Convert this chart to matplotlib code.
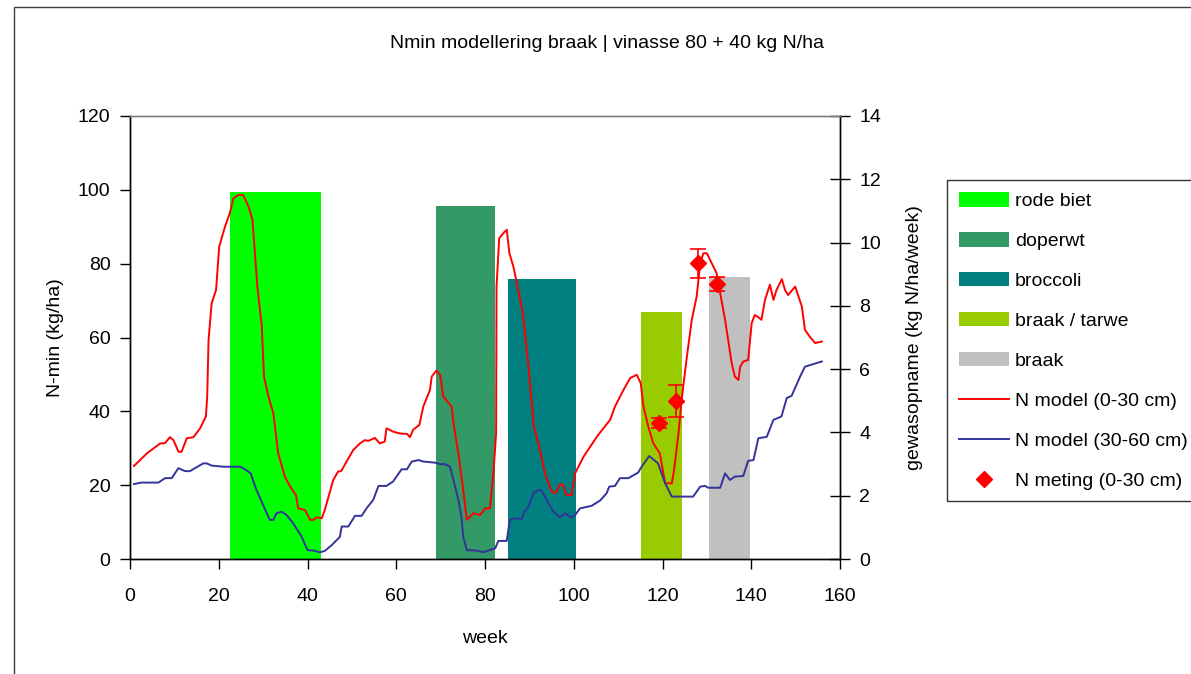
import matplotlib
matplotlib.use("Agg")
import matplotlib.pyplot as plt
from matplotlib.patches import Rectangle

plt.rcParams['font.family'] = ['Liberation Sans', 'DejaVu Sans']

# ---------------- data ----------------
crop_names = ["rode biet", "doperwt", "broccoli", "braak / tarwe", "braak"]
crop_start = [22.5, 69.0, 85.2, 115.2, 130.5]
crop_end = [43.0, 82.3, 100.5, 124.4, 139.7]
crop_uptake = [11.6, 11.15, 8.85, 7.8, 8.9]   # kg N/ha/week (right axis)
crop_colors = ["#00FF00", "#339966", "#008080", "#99CC00", "#C0C0C0"]

red_weeks = [0.9, 3.8, 6.8, 7.9, 9.0, 9.8, 10.9, 11.6, 12.8, 14.3, 15.8, 17.1, 17.4, 17.7,
             18.4, 19.4, 20.1, 21.4, 22.5, 23.3, 24.4, 25.5, 26.7, 27.6, 28.2, 28.7, 29.7,
             30.2, 31.2, 32.3, 33.4, 34.9, 36.1, 37.4, 37.9, 39.4, 40.6, 41.3, 42.1, 43.2,
             43.9, 45.8, 46.9, 47.6, 48.8, 50.3, 51.8, 52.9, 53.7, 55.2, 56.3, 57.4, 57.8,
             59.3, 60.8, 62.4, 63.1, 63.8, 65.2, 66.1, 67.6, 68.0, 69.0, 69.9, 70.6, 72.5,
             72.9, 74.0, 75.0, 75.9, 77.4, 78.9, 80.0, 81.1, 81.9, 82.5, 82.6, 83.2, 84.1,
             84.9, 85.5, 86.4, 87.5, 88.5, 89.8, 91.0, 92.4, 93.5, 94.6, 95.2, 96.1, 96.9,
             97.6, 98.4, 99.5, 100.3, 102.2, 103.7, 105.2, 107.0, 108.2, 109.3, 111.2,
             112.7, 114.2, 115.1, 115.7, 116.8, 117.9, 119.4, 120.6, 122.1, 122.6, 123.6,
             124.3, 125.4, 126.6, 127.7, 128.5, 129.2, 130.0, 131.1, 132.2, 133.0, 134.1,
             134.8, 135.6, 136.3, 137.1, 137.5, 138.2, 139.3, 140.1, 140.8, 141.6, 142.3,
             143.1, 144.2, 145.0, 145.7, 146.9, 147.6, 148.3, 149.9, 151.4, 152.1, 153.2,
             154.4, 155.9]
red_nmin = [25.2, 28.6, 31.3, 31.4, 33.0, 32.2, 29.1, 29.0, 32.7, 33.0, 35.4, 38.6, 44.0, 59.3,
            69.3, 72.9, 84.6, 90.0, 93.7, 97.7, 98.6, 98.6, 95.5, 91.9, 81.9, 73.8, 63.0,
            49.4, 44.0, 39.5, 28.6, 22.3, 19.6, 17.3, 13.7, 13.3, 10.6, 10.6, 11.3, 11.0,
            13.3, 21.4, 23.7, 23.8, 26.4, 29.5, 31.3, 32.2, 32.0, 32.8, 31.3, 31.8, 35.4,
            34.5, 34.0, 33.9, 33.0, 35.0, 36.3, 41.3, 45.8, 49.4, 51.0, 49.9, 44.0, 41.3,
            36.8, 28.6, 19.6, 10.6, 12.4, 11.9, 13.7, 13.7, 23.2, 34.0, 73.8, 86.9, 88.2,
            89.2, 82.8, 79.2, 72.9, 66.6, 52.1, 35.9, 29.5, 23.2, 19.6, 18.0, 18.0, 20.3,
            20.0, 17.3, 17.3, 23.2, 27.7, 30.4, 33.1, 35.9, 37.7, 41.3, 45.8,
            49.0, 49.9, 47.6, 41.3, 35.9, 31.4, 28.6, 20.5, 20.5, 24.1, 34.0,
            43.0, 53.9, 64.8, 71.1, 80.1, 82.8, 82.8, 80.1, 77.4, 72.0, 64.8,
            59.3, 53.0, 49.4, 48.5, 52.1, 53.5, 53.9, 63.9, 66.1, 65.5, 64.8,
            70.2, 74.3, 70.2, 72.9, 75.8, 72.9, 71.5, 73.8, 68.4, 62.1, 60.2,
            58.5, 58.9]

blue_weeks = [0.9, 2.6, 6.4, 7.9, 9.4, 10.9, 12.4, 13.5, 16.5, 17.3, 18.4, 21.0, 24.8, 25.9,
              27.2, 28.5, 30.0, 31.5, 32.3, 33.0, 34.2, 35.3, 36.8, 38.7, 40.0, 41.3, 42.8,
              43.9, 45.5, 47.3, 47.7, 49.2, 50.7, 52.2, 53.3, 54.8, 56.0, 57.8, 59.3, 61.2,
              62.4, 63.5, 65.0, 66.1, 68.7, 69.9, 71.0, 72.1, 72.9, 74.0, 74.7, 75.1, 75.9,
              78.1, 79.6, 80.7, 82.3, 83.0, 84.9, 85.6, 86.4, 88.3, 88.8, 89.8, 90.9, 92.0,
              92.8, 93.9, 95.4, 96.9, 98.0, 99.5, 100.3, 101.4, 104.0, 105.9, 107.4, 108.0,
              109.3, 110.4, 112.3, 114.5, 115.3, 117.0, 119.0, 120.6, 122.1, 126.9, 128.5,
              129.6, 130.3, 133.0, 134.1, 135.2, 136.3, 138.2, 139.3, 140.5, 141.6, 143.5,
              145.0, 146.8, 148.0, 149.1, 151.0, 152.1, 154.0, 155.9]
blue_nmin = [20.3, 20.7, 20.7, 21.9, 21.9, 24.6, 23.8, 23.8, 25.9, 25.9, 25.3, 25.0, 25.0, 24.3,
             23.2, 18.7, 14.6, 10.6, 10.6, 12.4, 12.8, 11.9, 9.6, 6.0, 2.4, 2.3, 1.8,
             2.2, 3.8, 6.0, 8.8, 8.8, 11.7, 11.7, 13.7, 16.0, 19.8, 19.8, 21.0, 24.3,
             24.3, 26.4, 26.8, 26.4, 26.1, 25.7, 25.7, 25.0, 21.4, 16.0, 11.5, 6.0, 2.4,
             2.3, 1.8, 2.3, 2.9, 4.9, 4.9, 10.6, 11.0, 10.8, 12.8, 14.2, 17.8, 18.7,
             18.5, 16.0, 12.8, 11.3, 12.4, 11.2, 11.9, 13.7, 14.4, 15.8, 17.8, 19.6,
             19.8, 21.9, 21.9, 23.4, 25.0, 27.9, 25.9, 20.5, 16.9, 16.9, 19.6,
             19.8, 19.3, 19.3, 23.2, 21.4, 22.3, 22.5, 26.6, 26.8, 32.7, 33.1,
             37.7, 38.6, 43.6, 44.2, 49.4, 52.1, 52.8, 53.5]

meas_weeks = [119.3, 123.0, 128.1, 132.2]
meas_nmin = [36.9, 42.9, 80.1, 74.5]
meas_err = [1.3, 4.3, 4.0, 2.0]

title = "Nmin modellering braak | vinasse 80 + 40 kg N/ha"

# ---------------- figure ----------------
W, H = 1191, 674
fig = plt.figure(figsize=(W / 100, H / 100), dpi=100)
ax = fig.add_axes([130 / W, (H - 559) / H, 710 / W, 443 / H])
ax2 = ax.twinx()

# crop bars on right axis
crop_widths = [e - s for s, e in zip(crop_start, crop_end)]
bar_handles = []
for s, w, h, c, n in zip(crop_start, crop_widths, crop_uptake, crop_colors, crop_names):
    b = ax2.bar(s, h, width=w, align='edge', color=c, edgecolor='none', label=n)
    bar_handles.append(b)

# lines on left axis
l1, = ax.plot(red_weeks, red_nmin, color='#FF0000', lw=1.4, label='N model (0-30 cm)')
l2, = ax.plot(blue_weeks, blue_nmin, color='#333399', lw=1.4, label='N model (30-60 cm)')
ax.errorbar(meas_weeks, meas_nmin, yerr=meas_err, fmt='none', ecolor='#FF0000',
            elinewidth=1.2, capsize=6, capthick=1.2)
l3, = ax.plot(meas_weeks, meas_nmin, ls='none', marker='D', ms=8, color='#FF0000',
              label='N meting (0-30 cm)')

ax.set_zorder(ax2.get_zorder() + 1)
ax.patch.set_visible(False)

ax.set_xlim(0, 160)
ax.set_ylim(0, 120)
ax2.set_ylim(0, 14)
ax.set_xticks(range(0, 161, 20))
ax.set_yticks(range(0, 121, 20))
ax2.set_yticks(range(0, 15, 2))

for a in (ax, ax2):
    a.spines['top'].set_color('#808080')
    for sp in ('left', 'right', 'bottom'):
        a.spines[sp].set_color('black')
    for sp in a.spines.values():
        sp.set_linewidth(1)

ax.tick_params(axis='y', direction='out', length=7, width=1, pad=7, labelsize=14, right=False)
ax.tick_params(axis='x', direction='out', length=7, width=1, pad=14, labelsize=14, top=False)
ax2.tick_params(axis='y', direction='inout', length=14, width=1, pad=7, labelsize=14)

ax.set_xlabel('week', fontsize=14, labelpad=18)
ax.set_ylabel('N-min (kg/ha)', fontsize=14, labelpad=10)
ax2.set_ylabel('gewasopname (kg N/ha/week)', fontsize=14, labelpad=18)

fig.text(607 / W, 1 - 43 / H, title, ha='center', va='center', fontsize=14)

handles = bar_handles + [l1, l2, l3]
labels = crop_names + ['N model (0-30 cm)', 'N model (30-60 cm)', 'N meting (0-30 cm)']
leg = fig.legend(handles, labels, loc='upper left', bbox_to_anchor=(947 / W, 1 - 180 / H),
                 bbox_transform=fig.transFigure, fontsize=14, frameon=True, fancybox=False,
                 edgecolor='black', borderpad=0.6, handlelength=2.6, handleheight=0.8,
                 handletextpad=0.3, labelspacing=1.12, borderaxespad=0)
leg.get_frame().set_linewidth(1)

# outer chart frame
fig.add_artist(Rectangle((14 / W, -0.1), 1.2, 1.1 - 7 / H, transform=fig.transFigure,
                         fill=False, ec='#404040', lw=1))

fig.savefig('out.png', dpi=100)
